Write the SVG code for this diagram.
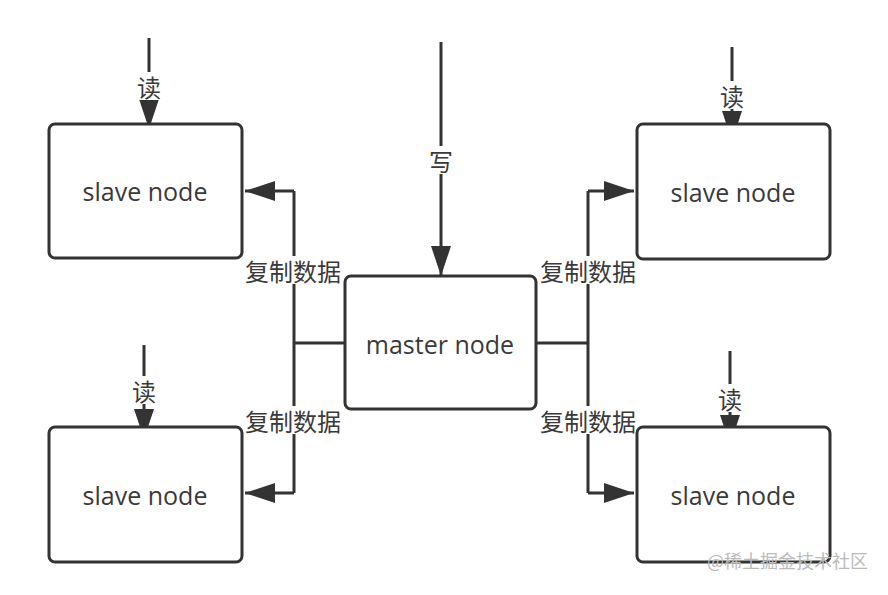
<svg xmlns="http://www.w3.org/2000/svg" width="888" height="595" viewBox="0 0 888 595">
<style>
.box{fill:#fff;stroke:#333;stroke-width:3}
.t{font-family:"Open Sans","Noto Sans CJK SC",sans-serif;font-size:25px;fill:#3a3a3a;text-anchor:middle;dominant-baseline:central}
.lb{font-family:"Noto Sans CJK SC",sans-serif;font-size:24px;fill:#3a3a3a;text-anchor:middle;dominant-baseline:central}
.ln{fill:none;stroke:#333;stroke-width:3}
.bg{fill:#fff}
</style>
<defs>
<marker id="ah" markerUnits="userSpaceOnUse" markerWidth="32" markerHeight="22" refX="30" refY="10" orient="auto">
<path d="M0,0 L30,10 L0,20 z" fill="#333"/>
</marker>
</defs>
<rect width="888" height="595" fill="#fff"/>
<g id="connectors">
<line class="ln" x1="149" y1="38" x2="149" y2="129" marker-end="url(#ah)"/>
<line class="ln" x1="732" y1="47" x2="732" y2="141" marker-end="url(#ah)"/>
<line class="ln" x1="144" y1="345" x2="144" y2="439" marker-end="url(#ah)"/>
<line class="ln" x1="730" y1="351" x2="730" y2="445" marker-end="url(#ah)"/>
<line class="ln" x1="441" y1="42" x2="441" y2="276" marker-end="url(#ah)"/>
<path class="ln" d="M345,343 H294 M294,191 V493"/>
<path class="ln" d="M294,191 H245" marker-end="url(#ah)"/>
<path class="ln" d="M294,493 H245" marker-end="url(#ah)"/>
<path class="ln" d="M536,343 H588 M588,191 V493"/>
<path class="ln" d="M588,191 H634" marker-end="url(#ah)"/>
<path class="ln" d="M588,493 H634" marker-end="url(#ah)"/>
<rect class="bg" x="137" y="72" width="24" height="28"/>
<text class="lb" x="149" y="86">读</text>
<rect class="bg" x="720" y="81" width="24" height="28"/>
<text class="lb" x="732" y="95">读</text>
<rect class="bg" x="132" y="376" width="24" height="28"/>
<text class="lb" x="144" y="390">读</text>
<rect class="bg" x="718" y="384" width="24" height="28"/>
<text class="lb" x="730" y="398">读</text>
<rect class="bg" x="429" y="146" width="24" height="28"/>
<text class="lb" x="441" y="160">写</text>
<rect class="bg" x="243" y="256" width="100" height="28"/>
<text class="lb" x="293" y="270">复制数据</text>
<rect class="bg" x="243" y="406" width="100" height="28"/>
<text class="lb" x="293" y="420">复制数据</text>
<rect class="bg" x="538" y="256" width="100" height="28"/>
<text class="lb" x="588" y="270">复制数据</text>
<rect class="bg" x="538" y="406" width="100" height="28"/>
<text class="lb" x="588" y="420">复制数据</text>
</g>
<g id="slave-tl"><rect class="box" x="49" y="124" width="193" height="134" rx="6"/><text class="t" x="145" y="191">slave node</text></g>
<g id="slave-tr"><rect class="box" x="637" y="124" width="193" height="135" rx="6"/><text class="t" x="733" y="192">slave node</text></g>
<g id="slave-bl"><rect class="box" x="49" y="427" width="193" height="135" rx="6"/><text class="t" x="145" y="495">slave node</text></g>
<g id="slave-br"><rect class="box" x="637" y="427" width="193" height="135" rx="6"/><text class="t" x="733" y="495">slave node</text></g>
<g id="master"><rect class="box" x="345" y="276" width="191" height="133" rx="6"/><text class="t" x="440" y="344">master node</text></g>
<text x="868" y="568" font-family="'Noto Sans CJK SC',sans-serif" font-size="18" fill="#bbb" text-anchor="end">@稀土掘金技术社区</text>
</svg>
